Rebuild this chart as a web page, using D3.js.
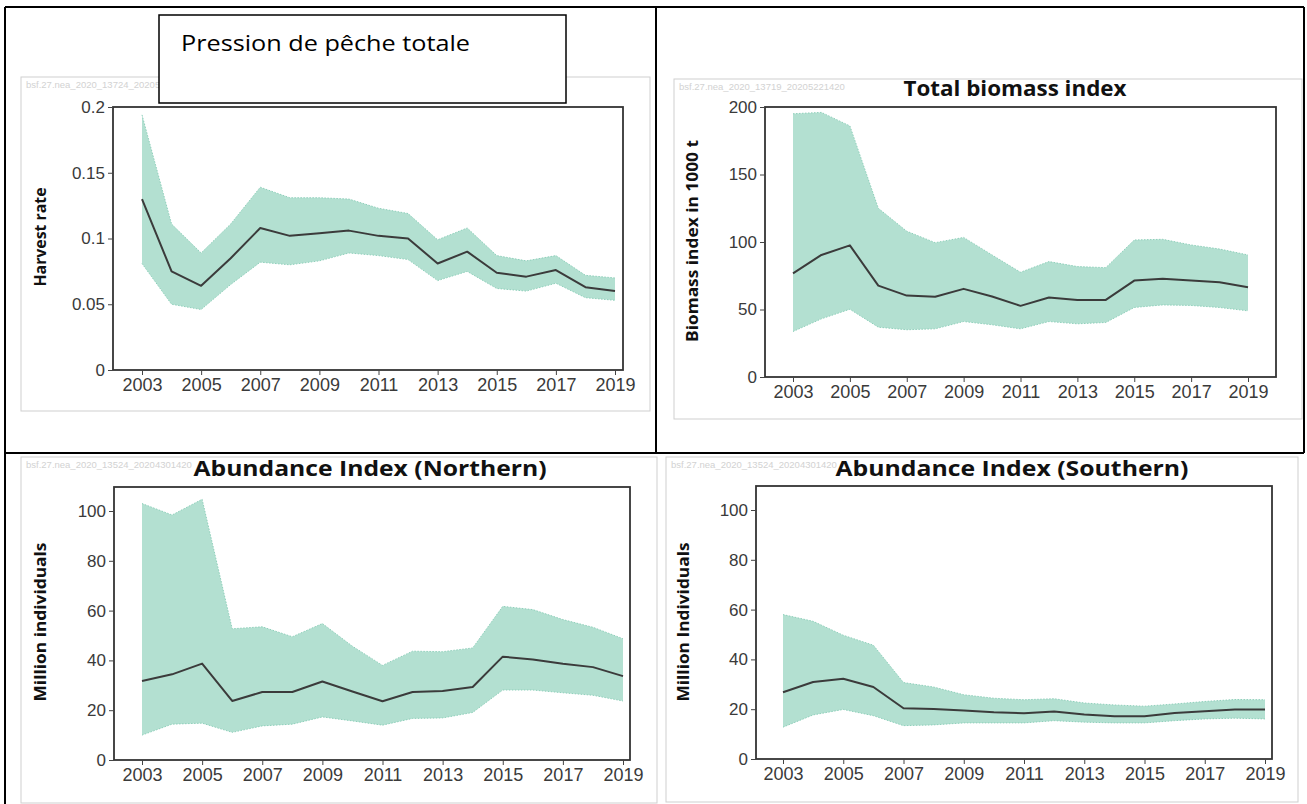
<!DOCTYPE html>
<html>
<head>
<meta charset="utf-8">
<script src="https://cdn.jsdelivr.net/npm/d3@7"></script>
<style>
  body { margin: 0; background: #fff; }
  svg { display: block; }
  .tick text { fill: #3a3a3a; }
</style>
</head>
<body>
<svg id="chart" width="1307" height="804"></svg>
<script>
// years shared by all four panels
const years = [2003, 2004, 2005, 2006, 2007, 2008, 2009, 2010, 2011, 2012, 2013, 2014, 2015, 2016, 2017, 2018, 2019];
const xTickYears = [2003, 2005, 2007, 2009, 2011, 2013, 2015, 2017, 2019];

// harvest rate
const harvestMean = [0.130, 0.075, 0.064, 0.085, 0.108, 0.102, 0.104, 0.106, 0.102, 0.100, 0.081, 0.090, 0.074, 0.071, 0.076, 0.063, 0.060];
const harvestHigh = [0.194, 0.111, 0.089, 0.111, 0.139, 0.131, 0.131, 0.130, 0.123, 0.119, 0.099, 0.108, 0.087, 0.083, 0.087, 0.072, 0.070];
const harvestLow = [0.081, 0.050, 0.046, 0.065, 0.082, 0.080, 0.083, 0.089, 0.087, 0.084, 0.068, 0.075, 0.062, 0.060, 0.066, 0.055, 0.053];
const harvestTicks = [0, 0.05, 0.1, 0.15, 0.2];

// total biomass index (1000 t)
const biomassMean = [76.8, 90.4, 97.5, 67.7, 60.3, 59.4, 65.3, 59.6, 52.7, 58.9, 57.1, 57.1, 71.4, 72.7, 71.4, 70.2, 66.5];
const biomassHigh = [195, 196, 186, 125, 108, 99.5, 103.4, 90.4, 77.6, 85.5, 81.8, 81, 101.5, 102, 97.8, 94.8, 90.4];
const biomassLow = [33.7, 43.1, 50.2, 36.9, 35, 35.7, 41.1, 38.7, 35.7, 41.1, 39.4, 40.4, 51.5, 53.4, 53, 51.5, 49];
const biomassTicks = [0, 50, 100, 150, 200];

// abundance index, northern (million)
const northMean = [31.7, 34.4, 38.7, 23.7, 27.3, 27.3, 31.5, 27.5, 23.6, 27.3, 27.7, 29.3, 41.5, 40.4, 38.7, 37.3, 33.7];
const northHigh = [103, 98.4, 104.7, 52.7, 53.5, 49.5, 54.8, 45.7, 38, 43.7, 43.5, 45, 61.7, 60.4, 56.4, 53.3, 48.7];
const northLow = [10, 14.4, 14.8, 11.1, 13.7, 14.4, 17.3, 15.7, 14, 16.7, 16.9, 19.1, 28.1, 28.1, 27, 26, 23.7];

// abundance index, southern (million)
const southMean = [26.8, 30.9, 32.2, 28.9, 20.4, 20.1, 19.5, 18.8, 18.4, 19.1, 17.9, 17.2, 17.2, 18.5, 19.2, 19.9, 19.9];
const southHigh = [58, 55.3, 49.7, 45.7, 30.7, 28.9, 25.8, 24.4, 23.8, 24.2, 22.5, 21.7, 21.2, 22.1, 23.1, 23.9, 23.8];
const southLow = [12.8, 17.7, 19.9, 17.4, 13.4, 13.7, 14.5, 14.5, 14.5, 15.4, 14.8, 14.5, 14.5, 15.4, 16.1, 16.4, 16.1];
const abundanceTicks = [0, 20, 40, 60, 80, 100];

const svg = d3.select('#chart');

const bandFill = '#b3e0d1';
const bandEdge = '#8fd0bb';
const lineColor = '#3b3b3b';

// table lines of the document
const table = svg.append('g').attr('stroke', '#000').attr('stroke-width', 2);
table.append('line').attr('x1', 5).attr('x2', 1304).attr('y1', 7).attr('y2', 7);
table.append('line').attr('x1', 5).attr('x2', 1304).attr('y1', 453).attr('y2', 453);
table.append('line').attr('x1', 5).attr('x2', 5).attr('y1', 7).attr('y2', 804);
table.append('line').attr('x1', 656).attr('x2', 656).attr('y1', 7).attr('y2', 453);
table.append('line').attr('x1', 1304).attr('x2', 1304).attr('y1', 7).attr('y2', 453);

const panels = [
  {
    box: [21, 77, 650, 411], watermark: 'bsf.27.nea_2020_13724_20205221420',
    xRange: [142, 615], yRange: [370, 107], plot: [113, 107, 623, 370],
    ticks: harvestTicks, fmt: d => String(d),
    mean: harvestMean, low: harvestLow, high: harvestHigh,
    ylabel: 'Harvest rate', ylabelX: 40, ylabelY: 237, ylabelLen: 99
  },
  {
    box: [674, 79, 1302, 419], watermark: 'bsf.27.nea_2020_13719_20205221420',
    xRange: [793, 1248], yRange: [377, 107], plot: [765, 107, 1276, 377],
    ticks: biomassTicks, fmt: d => String(d),
    mean: biomassMean, low: biomassLow, high: biomassHigh,
    title: 'Total biomass index', titleX: 1015, titleY: 96, titleLen: 223,
    ylabel: 'Biomass index in 1000 t', ylabelX: 692, ylabelY: 241, ylabelLen: 202
  },
  {
    box: [21, 457, 657, 803], watermark: 'bsf.27.nea_2020_13524_20204301420',
    xRange: [142, 623], yRange: [760, 511], plot: [114, 487, 630, 760],
    ticks: abundanceTicks, fmt: d => String(d),
    mean: northMean, low: northLow, high: northHigh,
    title: 'Abundance Index (Northern)', titleX: 370, titleY: 476, titleLen: 353,
    ylabel: 'Million individuals', ylabelX: 40, ylabelY: 622, ylabelLen: 159
  },
  {
    box: [666, 457, 1298, 802], watermark: 'bsf.27.nea_2020_13524_20204301420',
    xRange: [783, 1265], yRange: [759, 510], plot: [756, 486, 1272, 759],
    ticks: abundanceTicks, fmt: d => String(d),
    mean: southMean, low: southLow, high: southHigh,
    title: 'Abundance Index (Southern)', titleX: 1012, titleY: 476, titleLen: 353,
    ylabel: 'Million Individuals', ylabelX: 683, ylabelY: 622, ylabelLen: 159
  }
];

panels.forEach(drawPanel);

function drawPanel(p) {
  const g = svg.append('g');
  const [bx0, by0, bx1, by1] = p.box;
  const [px0, py0, px1, py1] = p.plot;

  // light grey frame of the pasted image
  g.append('rect')
    .attr('x', bx0).attr('y', by0)
    .attr('width', bx1 - bx0).attr('height', by1 - by0)
    .attr('fill', '#fff').attr('stroke', '#cfcfcf').attr('stroke-width', 1);

  g.append('text')
    .attr('x', bx0 + 5).attr('y', by0 + 11)
    .attr('font-family', 'Liberation Sans Narrow, Arial Narrow, sans-serif')
    .attr('font-size', 9.5)
    .attr('fill', '#d2d2d2')
    .text(p.watermark);

  const x = d3.scaleLinear().domain([2003, 2019]).range(p.xRange);
  const y = d3.scaleLinear().domain([p.ticks[0], p.ticks[p.ticks.length - 1]]).range(p.yRange);

  // confidence band
  const area = d3.area()
    .x((d, i) => x(years[i]))
    .y0((d, i) => y(p.low[i]))
    .y1((d, i) => y(p.high[i]));
  g.append('path')
    .datum(years)
    .attr('d', area)
    .attr('fill', bandFill);

  const edge = (vals) => d3.line().x((d, i) => x(years[i])).y((d, i) => y(vals[i]));
  [p.low, p.high].forEach(vals => {
    g.append('path')
      .datum(years)
      .attr('d', edge(vals))
      .attr('fill', 'none')
      .attr('stroke', bandEdge)
      .attr('stroke-width', 1)
      .attr('stroke-dasharray', '1.5,1.5');
  });

  g.append('path')
    .datum(years)
    .attr('d', edge(p.mean))
    .attr('fill', 'none')
    .attr('stroke', lineColor)
    .attr('stroke-width', 2)
    .attr('stroke-linejoin', 'round');

  // plot frame
  g.append('rect')
    .attr('x', px0).attr('y', py0)
    .attr('width', px1 - px0).attr('height', py1 - py0)
    .attr('fill', 'none').attr('stroke', '#333').attr('stroke-width', 1.8);

  const yAxis = g.append('g')
    .attr('transform', `translate(${px0},0)`)
    .call(d3.axisLeft(y).tickValues(p.ticks).tickFormat(p.fmt).tickSize(5).tickPadding(3));
  yAxis.select('.domain').remove();
  yAxis.selectAll('line').attr('stroke', '#444');
  yAxis.selectAll('text')
    .attr('font-family', 'Liberation Sans, Arial, sans-serif')
    .attr('font-size', 17);

  const xAxis = g.append('g')
    .attr('transform', `translate(0,${py1})`)
    .call(d3.axisBottom(x).tickValues(xTickYears).tickFormat(d3.format('d')).tickSize(5).tickPadding(3));
  xAxis.select('.domain').remove();
  xAxis.selectAll('line').attr('stroke', '#444');
  xAxis.selectAll('text')
    .attr('font-family', 'Liberation Sans Narrow, Arial Narrow, sans-serif')
    .attr('font-size', 18);

  if (p.title) {
    g.append('text')
      .attr('x', p.titleX).attr('y', p.titleY)
      .attr('text-anchor', 'middle')
      .attr('font-family', 'Open Sans, sans-serif')
      .attr('font-weight', 'bold')
      .attr('font-size', 22)
      .attr('textLength', p.titleLen)
      .attr('lengthAdjust', 'spacingAndGlyphs')
      .attr('fill', '#111')
      .text(p.title);
  }

  g.append('text')
    .attr('transform', `translate(${p.ylabelX},${p.ylabelY}) rotate(-90)`)
    .attr('text-anchor', 'middle')
    .attr('dy', '0.35em')
    .attr('font-family', 'Open Sans, sans-serif')
    .attr('font-weight', 'bold')
    .attr('font-size', 16)
    .attr('textLength', p.ylabelLen)
    .attr('lengthAdjust', 'spacingAndGlyphs')
    .attr('fill', '#111')
    .text(p.ylabel);
}

// text box laid over the first chart
svg.append('rect')
  .attr('x', 159).attr('y', 15)
  .attr('width', 407).attr('height', 88)
  .attr('fill', '#fff').attr('stroke', '#000').attr('stroke-width', 1.5);
svg.append('text')
  .attr('x', 181).attr('y', 51)
  .attr('font-family', 'Open Sans, sans-serif')
  .attr('font-size', 22)
  .attr('textLength', 289)
  .attr('lengthAdjust', 'spacingAndGlyphs')
  .attr('fill', '#000')
  .text('Pression de pêche totale');
</script>
</body>
</html>
